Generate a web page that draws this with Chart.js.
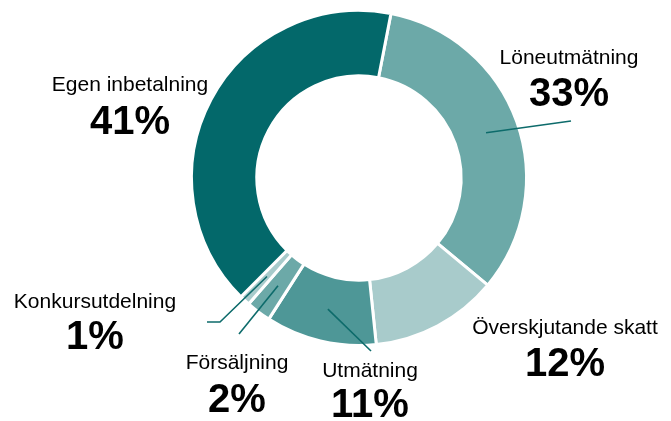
<!DOCTYPE html>
<html>
<head>
<meta charset="utf-8">
<script src="https://cdn.jsdelivr.net/npm/chart.js@4"></script>
<style>
  html, body { margin: 0; padding: 0; background: #ffffff; }
  canvas { display: block; }
</style>
</head>
<body>
<canvas id="c" width="671" height="421"></canvas>
<script>
// ---- data ----
const categories = ["Löneutmätning", "Överskjutande skatt", "Utmätning", "Försäljning", "Konkursutdelning", "Egen inbetalning"];
const shares = [33, 12.3, 10.7, 2.4, 1.0, 40.6];
const sliceColors = ["#6ca9a8", "#a8cbcb", "#4e9797", "#6ca9a8", "#a8cbcb", "#03686a"];

// ---- label layout (text anchor positions, leader-line end points) ----
const labelLayout = [
  { x: 569, nameY: 64,  pctY: 106, line: [[571, 121]] },
  { x: 565, nameY: 334, pctY: 376, line: null },
  { x: 370, nameY: 377, pctY: 417, line: [[371, 351]] },
  { x: 237, nameY: 369, pctY: 412, line: [[239, 334]] },
  { x: 95,  nameY: 308, pctY: 349, line: [[220, 322], [207, 322]] },
  { x: 130, nameY: 91,  pctY: 134, line: null }
];

const labelPlugin = {
  id: 'sliceLabels',
  afterDatasetsDraw(chart) {
    const ctx = chart.ctx;
    const meta = chart.getDatasetMeta(0);
    ctx.save();
    meta.data.forEach((arc, i) => {
      const lay = labelLayout[i];
      if (lay.line) {
        const p = arc.tooltipPosition();
        ctx.beginPath();
        ctx.moveTo(p.x, p.y);
        lay.line.forEach(pt => ctx.lineTo(pt[0], pt[1]));
        ctx.strokeStyle = '#0d6b6b';
        ctx.lineWidth = 1.6;
        ctx.stroke();
      }
      ctx.fillStyle = '#000000';
      ctx.textAlign = 'center';
      ctx.textBaseline = 'alphabetic';
      ctx.font = '21px "Liberation Sans", Arial, sans-serif';
      ctx.fillText(categories[i], lay.x, lay.nameY);
      ctx.font = 'bold 40px "Liberation Sans", Arial, sans-serif';
      ctx.fillText(Math.round(shares[i]) + '%', lay.x, lay.pctY);
    });
    ctx.restore();
  }
};

new Chart(document.getElementById('c'), {
  type: 'doughnut',
  data: {
    labels: categories,
    datasets: [{
      data: shares,
      backgroundColor: sliceColors,
      borderColor: '#ffffff',
      borderWidth: 3
    }]
  },
  options: {
    responsive: false,
    animation: false,
    rotation: 11,
    cutout: '61%',
    layout: { padding: { left: 190, right: 143, top: 9, bottom: 74 } },
    plugins: {
      legend: { display: false },
      tooltip: { enabled: false }
    }
  },
  plugins: [labelPlugin]
});
</script>
</body>
</html>
